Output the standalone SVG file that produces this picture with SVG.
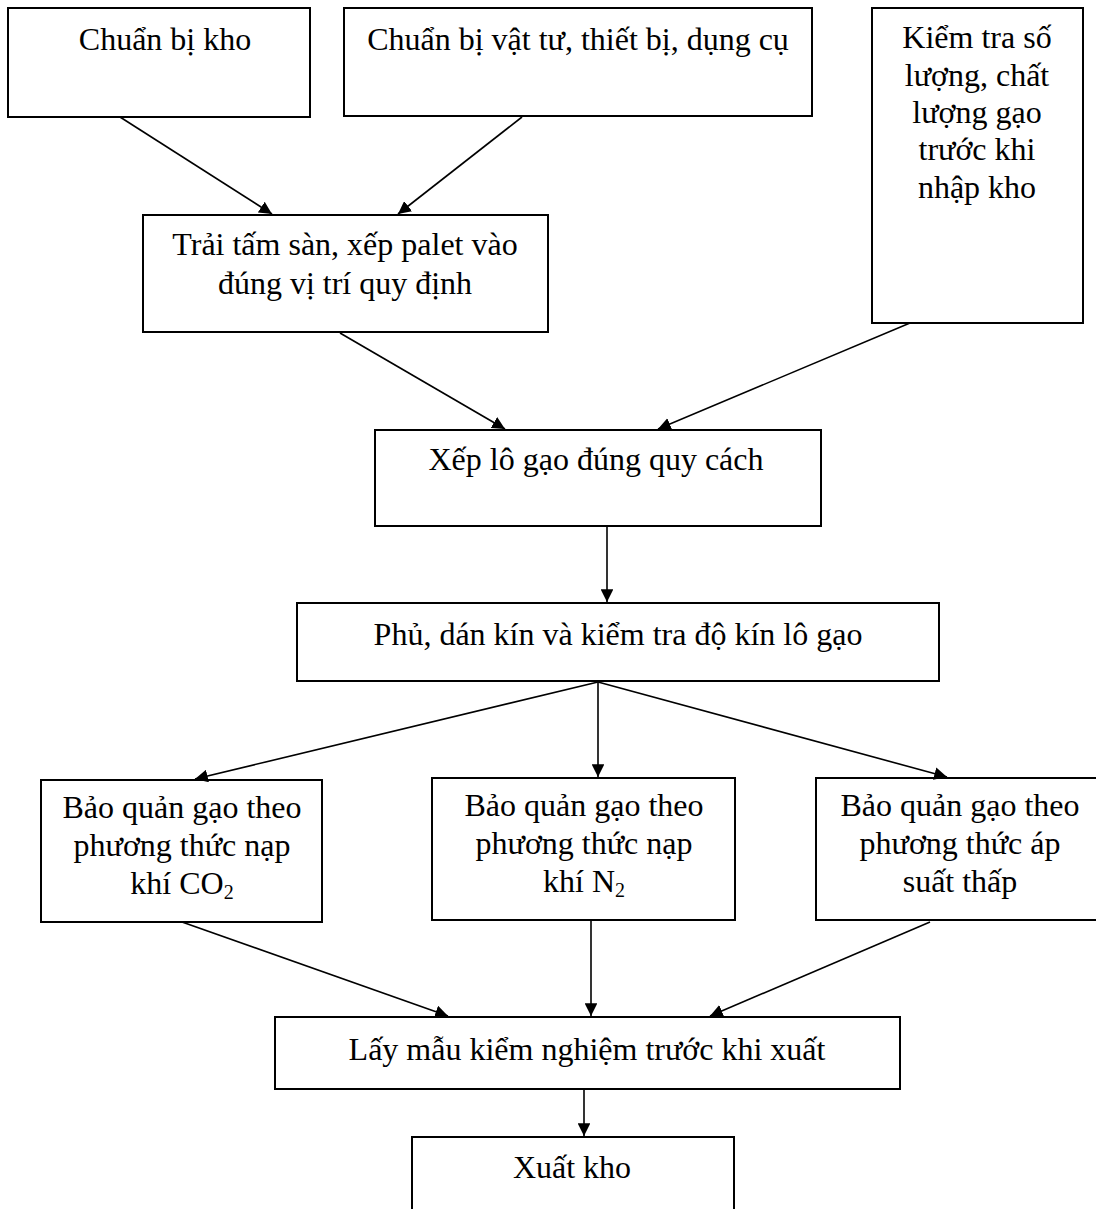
<svg xmlns="http://www.w3.org/2000/svg" width="1096" height="1209" viewBox="0 0 1096 1209">
<style>
.box{fill:#fff;stroke:#000;stroke-width:2}
.t{font-family:"Liberation Serif","Times New Roman",serif;font-size:32px;fill:#000;text-anchor:middle}
.c{stroke:#000;stroke-width:1.6;fill:none;marker-end:url(#ah)}
</style>
<defs>
<marker id="ah" viewBox="0 0 10 10" refX="10" refY="5" markerWidth="8" markerHeight="8" markerUnits="strokeWidth" orient="auto">
<path d="M0,0 L10,5 L0,10 z" fill="#000"/>
</marker>
</defs>
<rect width="1096" height="1209" fill="#fff"/>
<g id="n1"><rect class="box" x="8" y="8" width="302" height="109"/><text class="t" x="165" y="50">Chuẩn bị kho</text></g>
<g id="n2"><rect class="box" x="344" y="8" width="468" height="108"/><text class="t" x="578" y="50">Chuẩn bị vật tư, thiết bị, dụng cụ</text></g>
<g id="n3"><rect class="box" x="872" y="8" width="211" height="315"/>
<text class="t" x="977" y="48">Kiểm tra số</text>
<text class="t" x="977" y="86">lượng, chất</text>
<text class="t" x="977" y="123">lượng gạo</text>
<text class="t" x="977" y="160">trước khi</text>
<text class="t" x="977" y="198">nhập kho</text></g>
<g id="n4"><rect class="box" x="143" y="215" width="405" height="117"/>
<text class="t" x="345" y="255">Trải tấm sàn, xếp palet vào</text>
<text class="t" x="345" y="294">đúng vị trí quy định</text></g>
<g id="n5"><rect class="box" x="375" y="430" width="446" height="96"/><text class="t" x="596" y="470">Xếp lô gạo đúng quy cách</text></g>
<g id="n6"><rect class="box" x="297" y="603" width="642" height="78"/><text class="t" x="618" y="645">Phủ, dán kín và kiểm tra độ kín lô gạo</text></g>
<g id="n7"><rect class="box" x="41" y="780" width="281" height="142"/>
<text class="t" x="182" y="818">Bảo quản gạo theo</text>
<text class="t" x="182" y="856">phương thức nạp</text>
<text class="t" x="182" y="894">khí CO<tspan font-size="20" dy="5">2</tspan></text></g>
<g id="n8"><rect class="box" x="432" y="778" width="303" height="142"/>
<text class="t" x="584" y="816">Bảo quản gạo theo</text>
<text class="t" x="584" y="854">phương thức nạp</text>
<text class="t" x="584" y="892">khí N<tspan font-size="20" dy="5">2</tspan></text></g>
<g id="n9"><rect class="box" x="816" y="778" width="285" height="142"/>
<text class="t" x="960" y="816">Bảo quản gạo theo</text>
<text class="t" x="960" y="854">phương thức áp</text>
<text class="t" x="960" y="892">suất thấp</text></g>
<g id="n10"><rect class="box" x="275" y="1017" width="625" height="72"/><text class="t" x="587" y="1060">Lấy mẫu kiểm nghiệm trước khi xuất</text></g>
<g id="n11"><rect class="box" x="412" y="1137" width="322" height="80"/><text class="t" x="572" y="1178">Xuất kho</text></g>
<g id="connectors">
<line class="c" x1="120" y1="117" x2="272" y2="214"/>
<line class="c" x1="522" y1="117" x2="398" y2="214"/>
<line class="c" x1="340" y1="333" x2="505" y2="429"/>
<line class="c" x1="910" y1="323" x2="658" y2="429"/>
<line class="c" x1="607" y1="527" x2="607" y2="602"/>
<line class="c" x1="598" y1="682" x2="195" y2="779"/>
<line class="c" x1="598" y1="682" x2="598" y2="777"/>
<line class="c" x1="598" y1="682" x2="947" y2="777"/>
<line class="c" x1="182" y1="922" x2="448" y2="1016"/>
<line class="c" x1="591" y1="921" x2="591" y2="1016"/>
<line class="c" x1="930" y1="922" x2="710" y2="1016"/>
<line class="c" x1="584" y1="1090" x2="584" y2="1136"/>
</g>
</svg>
